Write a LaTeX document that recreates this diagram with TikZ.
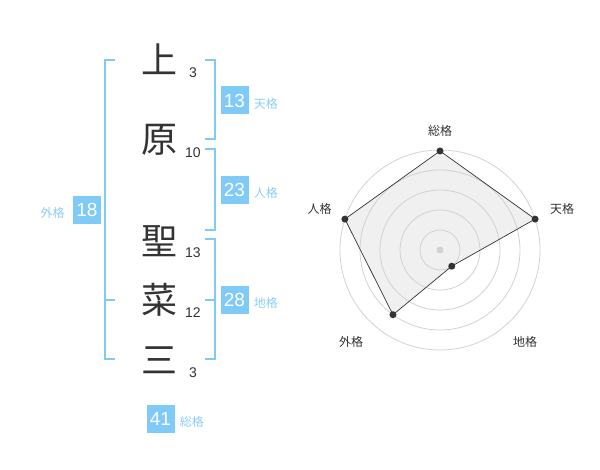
\documentclass[tikz,border=0pt]{standalone}
\usepackage{fontspec}
\setmainfont{Liberation Sans}
\newfontfamily\jpfont{Noto Sans CJK JP}
\usetikzlibrary{positioning,calc}
\definecolor{nameblue}{RGB}{128,202,248}
\definecolor{labelblue}{RGB}{140,206,245}
\definecolor{inkgray}{RGB}{51,51,51}
\definecolor{ringgray}{RGB}{210,210,210}
\definecolor{areagray}{RGB}{240,240,240}

\begin{document}
\begin{tikzpicture}[x=1pt, y=-1pt,
    kanji/.style={font=\jpfont\fontsize{36}{36}\selectfont, text=inkgray, inner sep=0pt},
    strokes/.style={font=\fontsize{14}{14}\selectfont, text=inkgray, inner sep=0pt},
    score/.style={fill=nameblue, text=white, font=\fontsize{19}{19}\selectfont, minimum size=28pt, inner sep=0pt},
    kaku/.style={font=\jpfont\fontsize{12}{12}\selectfont, text=labelblue, inner sep=0pt},
    bracket/.style={draw=nameblue, line width=2pt},
    ring/.style={draw=ringgray, line width=0.8pt},
    axislabel/.style={font=\jpfont\fontsize{12}{12}\selectfont, text=inkgray, inner sep=0pt},
    dot/.style={circle, fill=inkgray, minimum size=7pt, inner sep=0pt}]
    \useasboundingbox (0,0) rectangle (600,470);

    % Name characters
    \node[kanji] (c1) at (159,59) {上};
    \node[kanji] (c2) at (159,140) {原};
    \node[kanji] (c3) at (159,241) {聖};
    \node[kanji] (c4) at (159,300) {菜};
    \node[kanji] (c5) at (159,360) {三};

    % Stroke counts
    \node[strokes] (n1) at (193,73) {3};
    \node[strokes] (n2) at (193,153) {10};
    \node[strokes] (n3) at (193,253) {13};
    \node[strokes] (n4) at (193,313) {12};
    \node[strokes] (n5) at (193,373) {3};

    % Brackets
    \draw[bracket] (205,60) -- (215,60) -- (215,139) -- (205,139);
    \draw[bracket] (205,149) -- (215,149) -- (215,230) -- (205,230);
    \draw[bracket] (205,239) -- (215,239) -- (215,359) -- (205,359);
    \draw[bracket] (205,300) -- (215,300);
    \draw[bracket] (115,60) -- (105,60) -- (105,359) -- (115,359);
    \draw[bracket] (105,300) -- (115,300);

    % Scores
    \node[score] (ten) at (234.5,100.5) {13};
    \node[score] (jin) at (234.5,190) {23};
    \node[score] (chi) at (234.5,300) {28};
    \node[score] (gai) at (87,210) {18};
    \node[score] (sou) at (160.5,419) {41};
    \node[kaku, right=5pt of ten, yshift=-3pt] (tenl) {天格};
    \node[kaku, right=5pt of jin, yshift=-3pt] (jinl) {人格};
    \node[kaku, right=5pt of chi, yshift=-3pt] (chil) {地格};
    \node[kaku, left=8pt of gai, yshift=-3pt] (gail) {外格};
    \node[kaku, right=5pt of sou, yshift=-3pt] (soul) {総格};

    % Radar chart
    \coordinate (hub) at (440,250);
    \coordinate (psou) at ($(hub)+(-90:99)$);
    \coordinate (pten) at ($(hub)+(-18:100)$);
    \coordinate (pchi) at ($(hub)+(54:20)$);
    \coordinate (pgai) at ($(hub)+(126:80)$);
    \coordinate (pjin) at ($(hub)+(-162:100)$);
    \fill[areagray] (psou) -- (pten) -- (pchi) -- (pgai) -- (pjin) -- cycle;
    \foreach \r in {20,40,...,100}
        \draw[ring] (hub) circle (\r pt);
    \fill[ringgray] (hub) circle (3.5pt);
    \draw[inkgray, line width=0.7pt] (psou) -- (pten) -- (pchi) -- (pgai) -- (pjin) -- cycle;
    \foreach \p in {psou,pten,pchi,pgai,pjin}
        \node[dot] at (\p) {};

    \node[axislabel] (asou) at (440,131) {総格};
    \node[axislabel] (aten) at (562,209) {天格};
    \node[axislabel] (ajin) at (319.5,209) {人格};
    \node[axislabel] (agai) at (351,342) {外格};
    \node[axislabel] (achi) at (525,342) {地格};
\end{tikzpicture}
\end{document}
